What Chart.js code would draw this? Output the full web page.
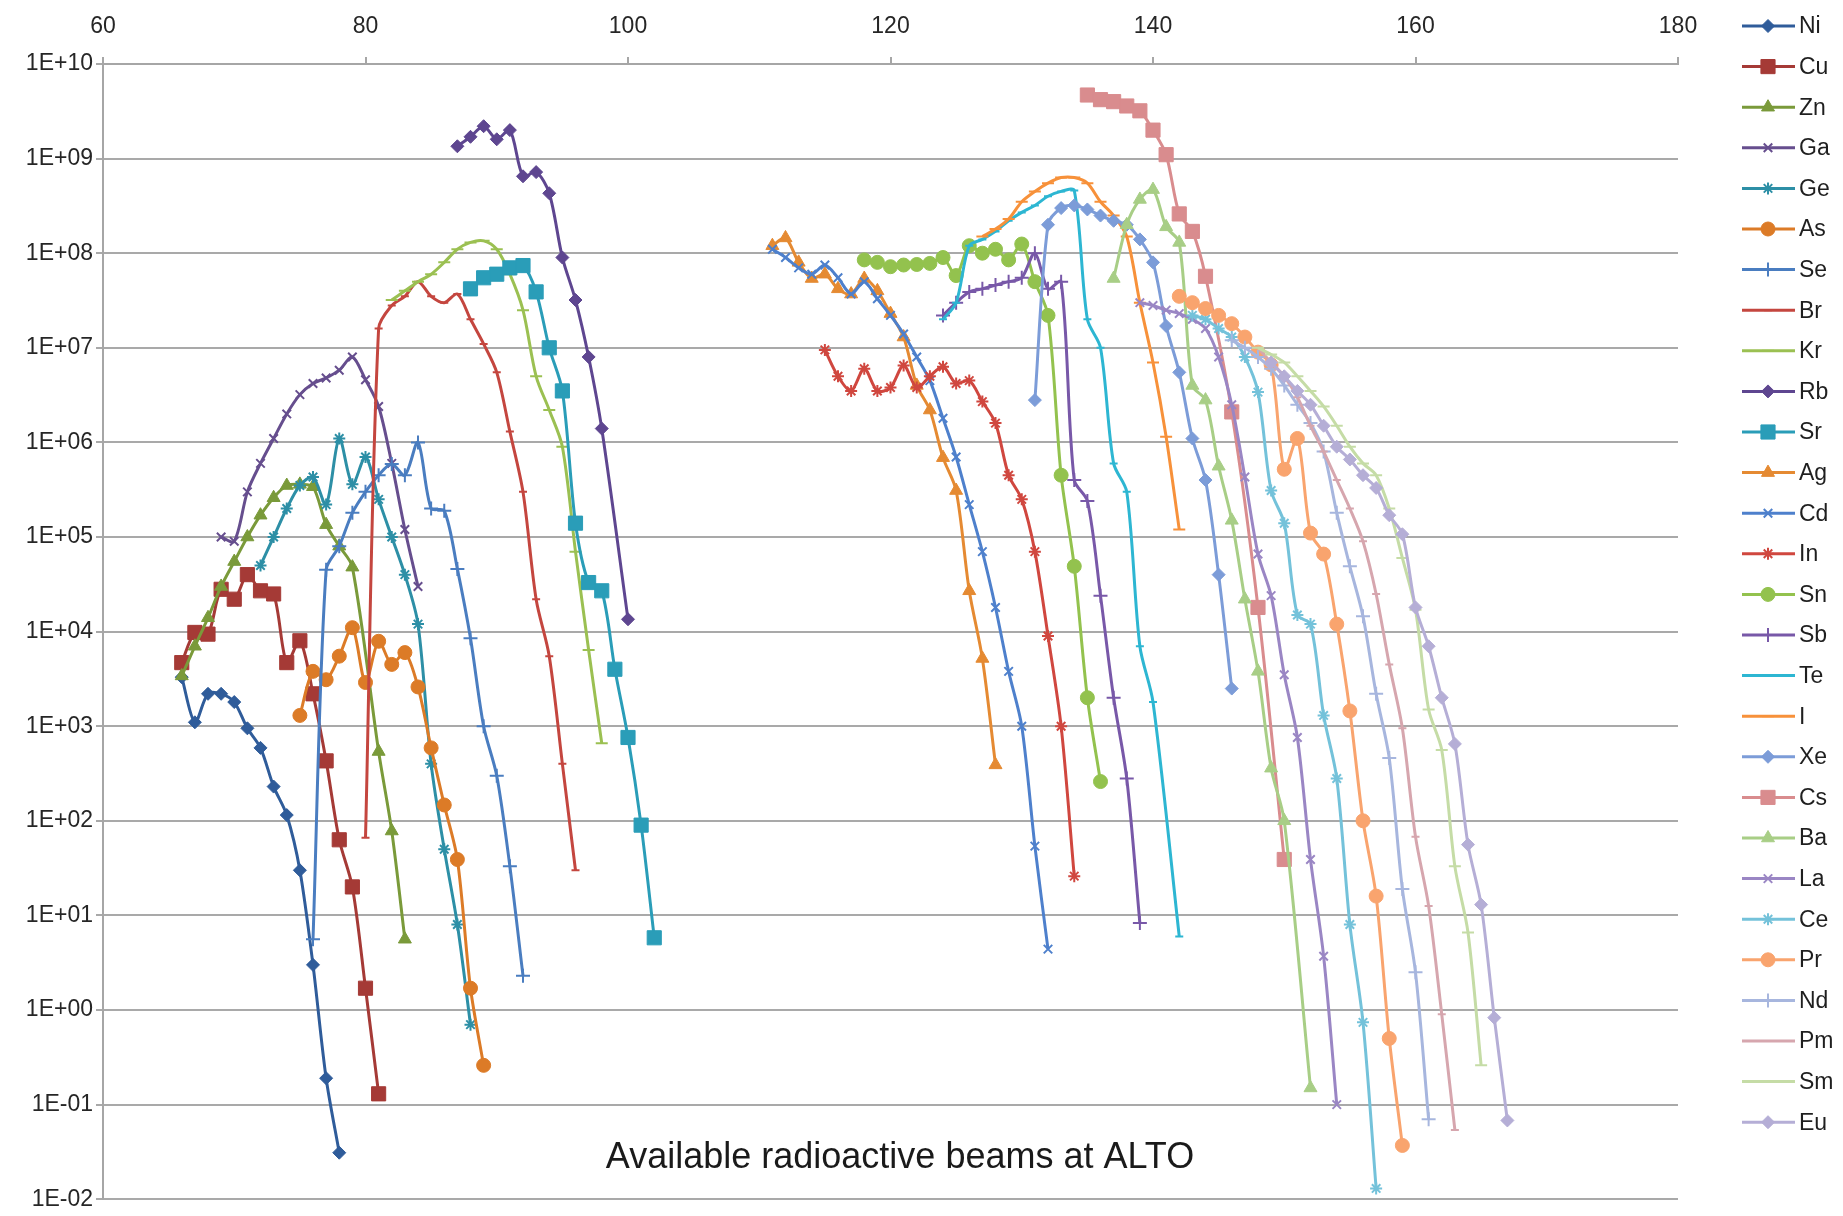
<!DOCTYPE html>
<html>
<head>
<meta charset="utf-8">
<title>Available radioactive beams at ALTO</title>
<script src="https://cdn.jsdelivr.net/npm/chart.js@4.4.1/dist/chart.umd.min.js"></script>
<style>
  html, body { margin: 0; padding: 0; background: #fff; }
  #beams { display: block; }
</style>
</head>
<body>
<canvas id="beams" width="1843" height="1216"></canvas>
<script>
// [mass number A, beam intensity] pairs
const Ni = [[66,3.3e3],[67,1.1e3],[68,2.2e3],[69,2.2e3],[70,1.8e3],[71,950],[72,590],[73,230],[74,115],[75,30],[76,3],[77,0.19],[78,0.031]];
const Cu = [[66,4.7e3],[67,9.8e3],[68,9.4e3],[69,2.8e4],[70,2.2e4],[71,4e4],[72,2.7e4],[73,2.5e4],[74,4.7e3],[75,8e3],[76,2.2e3],[77,430],[78,63],[79,20],[80,1.7],[81,0.13]];
const Zn = [[66,3.4e3],[67,7e3],[68,1.4e4],[69,3e4],[70,5.5e4],[71,1e5],[72,1.7e5],[73,2.6e5],[74,3.5e5],[75,3.6e5],[76,3.4e5],[77,1.35e5],[78,8e4],[79,4.8e4],[81,540],[82,78],[83,5.6]];
const Ga = [[69,1e5],[70,9e4],[71,3e5],[72,6e5],[73,1.1e6],[74,2e6],[75,3.2e6],[76,4.2e6],[77,4.8e6],[78,5.8e6],[79,8e6],[80,4.6e6],[81,2.4e6],[82,6e5],[83,1.2e5],[84,3e4]];
const Ge = [[72,5e4],[73,1e5],[74,2e5],[75,3.5e5],[76,4.3e5],[77,2.2e5],[78,1.1e6],[79,3.6e5],[80,7e5],[81,2.5e5],[82,1e5],[83,4e4],[84,1.2e4],[85,400],[86,50],[87,8],[88,0.7]];
const As = [[75,1.3e3],[76,3.8e3],[77,3.1e3],[78,5.5e3],[79,1.1e4],[80,2.9e3],[81,7.9e3],[82,4.5e3],[83,6e3],[84,2.6e3],[85,590],[86,147],[87,39],[88,1.7],[89,0.26]];
const Se = [[76,5.6],[77,4.5e4],[78,8e4],[79,1.8e5],[80,3e5],[81,4.5e5],[82,5.9e5],[83,4.5e5],[84,1e6],[85,2e5],[86,1.9e5],[87,4.6e4],[88,8.5e3],[89,1e3],[90,300],[91,33],[92,2.3]];
const Br = [[80,66],[81,1.6e7],[82,2.8e7],[83,3.5e7],[84,5e7],[85,3.5e7],[86,3e7],[87,3.7e7],[88,2e7],[89,1.1e7],[90,5.5e6],[91,1.3e6],[92,3e5],[93,2.2e4],[94,5.5e3],[95,400],[96,30]];
const Kr = [[82,3.2e7],[83,4e7],[84,5e7],[85,6e7],[86,8e7],[87,1.1e8],[88,1.3e8],[89,1.35e8],[90,1.1e8],[91,6e7],[92,2.5e7],[93,5e6],[94,2.2e6],[95,9e5],[96,7e4],[97,6.4e3],[98,660]];
const Rb = [[87,1.35e9],[88,1.7e9],[89,2.2e9],[90,1.6e9],[91,2e9],[92,6.5e8],[93,7.2e8],[94,4.3e8],[95,9e7],[96,3.2e7],[97,8e6],[98,1.4e6],[100,1.35e4]];
const Sr = [[88,4.2e7],[89,5.5e7],[90,6e7],[91,7e7],[92,7.4e7],[93,3.9e7],[94,1e7],[95,3.5e6],[96,1.4e5],[97,3.3e4],[98,2.7e4],[99,4e3],[100,760],[101,90],[102,5.8]];
const Ag = [[111,1.2e8],[112,1.45e8],[113,8e7],[114,5.4e7],[115,6e7],[116,4.2e7],[117,3.7e7],[118,5.4e7],[119,4e7],[120,2.3e7],[121,1.3e7],[122,4e6],[123,2.2e6],[124,6.9e5],[125,3.1e5],[126,2.7e4],[127,5.2e3],[128,390]];
const Cd = [[111,1.1e8],[112,9e7],[113,7e7],[114,6e7],[115,7.5e7],[116,5.5e7],[117,3.7e7],[118,5e7],[119,3.3e7],[120,2.2e7],[121,1.4e7],[122,8e6],[123,4.5e6],[124,1.8e6],[125,7e5],[126,2.2e5],[127,7e4],[128,1.8e4],[129,3.8e3],[130,1e3],[131,54],[132,4.4]];
const In = [[115,9.5e6],[116,5e6],[117,3.5e6],[118,6e6],[119,3.5e6],[120,3.8e6],[121,6.5e6],[122,3.8e6],[123,5e6],[124,6.3e6],[125,4.2e6],[126,4.5e6],[127,2.7e6],[128,1.6e6],[129,4.5e5],[130,2.5e5],[131,7e4],[132,9e3],[133,1e3],[134,26]];
const Sn = [[118,8.5e7],[119,8e7],[120,7.2e7],[121,7.5e7],[122,7.6e7],[123,7.8e7],[124,9e7],[125,5.8e7],[126,1.2e8],[127,1e8],[128,1.1e8],[129,8.5e7],[130,1.25e8],[131,5e7],[132,2.2e7],[133,4.5e5],[134,4.9e4],[135,2e3],[136,260]];
const Sb = [[124,2.2e7],[125,3e7],[126,3.9e7],[127,4.2e7],[128,4.6e7],[129,5e7],[130,5.5e7],[131,1e8],[132,4.2e7],[133,5e7],[134,4e5],[135,2.4e5],[136,2.4e4],[137,2e3],[138,280],[139,8.3]];
const Te = [[124,2e7],[125,3e7],[126,1.2e8],[127,1.4e8],[128,1.7e8],[129,2.2e8],[130,2.7e8],[131,3.2e8],[132,4e8],[133,4.5e8],[134,4.6e8],[135,2e7],[136,1e7],[137,6e5],[138,3e5],[139,7e3],[140,1.8e3],[142,6]];
const I = [[127,1.5e8],[128,1.8e8],[129,2.3e8],[130,3.5e8],[131,4.5e8],[132,5.5e8],[133,6.3e8],[134,6.3e8],[135,5.5e8],[136,3.5e8],[137,2.5e8],[138,1.5e8],[139,3e7],[140,7e6],[141,1.15e6],[142,1.2e5]];
const Xe = [[131,2.8e6],[132,2e8],[133,3e8],[134,3.2e8],[135,2.9e8],[136,2.5e8],[137,2.2e8],[138,2e8],[139,1.4e8],[140,8e7],[141,1.7e7],[142,5.5e6],[143,1.1e6],[144,4e5],[145,4e4],[146,2.5e3]];
const Cs = [[135,4.7e9],[136,4.2e9],[137,4e9],[138,3.6e9],[139,3.2e9],[140,2e9],[141,1.1e9],[142,2.6e8],[143,1.7e8],[144,5.7e7],[146,2.1e6],[148,1.8e4],[150,39]];
const Ba = [[137,5.4e7],[138,2e8],[139,3.7e8],[140,4.7e8],[141,1.9e8],[142,1.3e8],[143,4e6],[144,2.8e6],[145,5.6e5],[146,1.5e5],[147,2.2e4],[148,3.8e3],[149,360],[150,100],[152,0.15]];
const La = [[139,3e7],[140,2.8e7],[141,2.5e7],[142,2.3e7],[143,2e7],[144,1.6e7],[145,8e6],[146,2.5e6],[147,4.3e5],[148,6.6e4],[149,2.4e4],[150,3.5e3],[151,760],[152,39],[153,3.7],[154,0.1]];
const Ce = [[143,2.2e7],[144,2e7],[145,1.6e7],[146,1.3e7],[147,8e6],[148,3.4e6],[149,3.1e5],[150,1.4e5],[151,1.5e4],[152,1.2e4],[153,1.3e3],[154,280],[155,8],[156,0.74],[157,0.013]];
const Pr = [[142,3.5e7],[143,3e7],[144,2.6e7],[145,2.2e7],[146,1.8e7],[147,1.3e7],[148,9e6],[149,6.6e6],[150,5.2e5],[151,1.1e6],[152,1.1e5],[153,6.6e4],[154,1.2e4],[155,1.45e3],[156,100],[157,16],[158,0.5],[159,0.037]];
const Nd = [[146,1.2e7],[147,1e7],[148,8e6],[149,6e6],[150,4e6],[151,2.5e6],[152,1.6e6],[153,8e5],[154,1.8e5],[155,4.9e4],[156,1.45e4],[157,2.2e3],[158,460],[159,19],[160,2.5],[161,0.07]];
const Pm = [[148,1e7],[149,7e6],[150,5e6],[151,3e6],[152,1.5e6],[153,8e5],[154,4e5],[155,2e5],[156,9e4],[157,2.5e4],[158,4.5e3],[159,950],[160,68],[161,12.6],[162,0.9],[163,0.054]];
const Sm = [[148,1e7],[149,8.5e6],[150,7e6],[151,5e6],[152,3.5e6],[153,2.4e6],[154,1.5e6],[155,9e5],[156,6e5],[157,4.5e5],[158,2e5],[159,6e4],[160,1.7e4],[161,1.5e3],[162,560],[163,33],[164,6.6],[165,0.26]];
const Eu = [[149,7e6],[150,5e6],[151,3.5e6],[152,2.5e6],[153,1.5e6],[154,9e5],[155,6.6e5],[156,4.5e5],[157,3.3e5],[158,1.7e5],[159,1.07e5],[160,1.8e4],[161,7e3],[162,2e3],[163,650],[164,56],[165,13],[166,0.83],[167,0.068]];

const elements = ['Ni','Cu','Zn','Ga','Ge','As','Se','Br','Kr','Rb','Sr','Ag','Cd','In','Sn','Sb','Te','I','Xe','Cs','Ba','La','Ce','Pr','Nd','Pm','Sm','Eu'];
const seriesData = [Ni, Cu, Zn, Ga, Ge, As, Se, Br, Kr, Rb, Sr, Ag, Cd, In, Sn, Sb, Te, I, Xe, Cs, Ba, La, Ce, Pr, Nd, Pm, Sm, Eu];

const xTickValues = [60, 80, 100, 120, 140, 160, 180];
const yTickExponents = [-2, -1, 0, 1, 2, 3, 4, 5, 6, 7, 8, 9, 10];
const chartTitle = 'Available radioactive beams at ALTO';

const colors = [
  '#2F5C9A', '#A53A36', '#7A9A3A', '#664E8E', '#2D8FA6', '#DC7B27',
  '#4A7DC0', '#C4463F', '#9BC052', '#5E4690', '#2A9DB8', '#E58A32',
  '#4E80CC', '#D0473F', '#93C24E', '#7858A8', '#2DB6D2', '#F7913A',
  '#7C9CD8', '#D98C8E', '#A8CE86', '#9A86C4', '#74C2DA', '#F9A46E',
  '#A7B6DE', '#D6A6AE', '#C5DCA6', '#B5AED6'
];

// excel cycles through 9 marker shapes
const markerCycle = ['rectRot', 'rect', 'triangle', 'crossRot', 'star', 'circle', 'cross', 'line', 'line'];
const markerRadius = [6.5, 10, 7.5, 6, 6, 7, 7, 4, 6];

const FONT = '"Liberation Sans", Arial, Helvetica, sans-serif';
Chart.defaults.font.family = FONT;

function expLabel(v) {
  const e = Math.round(Math.log10(v));
  return '1E' + (e < 0 ? '-' : '+') + String(Math.abs(e)).padStart(2, '0');
}

const datasets = seriesData.map((pts, i) => {
  const style = markerCycle[i % markerCycle.length];
  const stroked = ['crossRot', 'star', 'cross', 'line'].includes(style);
  return {
    label: elements[i],
    data: pts.map(p => ({ x: p[0], y: p[1] })),
    showLine: true,
    borderColor: colors[i],
    backgroundColor: colors[i],
    borderWidth: 3,
    tension: 0.3,
    pointStyle: style,
    pointRadius: markerRadius[i % markerRadius.length],
    pointBorderWidth: stroked ? 2 : 1,
    pointBackgroundColor: colors[i],
    pointBorderColor: colors[i],
    order: seriesData.length - i
  };
});

// legend like excel: a short line with the marker on it, next to the name
const sideLegend = {
  id: 'sideLegend',
  afterDraw(chart) {
    const ctx = chart.ctx;
    ctx.save();
    chart.data.datasets.forEach((ds, i) => {
      const y = 26 + i * 40.6;
      ctx.strokeStyle = ds.borderColor;
      ctx.fillStyle = ds.borderColor;
      ctx.lineWidth = 3;
      ctx.beginPath();
      ctx.moveTo(1742, y);
      ctx.lineTo(1795, y);
      ctx.stroke();
      ctx.lineWidth = ds.pointBorderWidth;
      if (Chart.helpers && Chart.helpers.drawPoint) {
        Chart.helpers.drawPoint(ctx, { pointStyle: ds.pointStyle, radius: ds.pointRadius, rotation: 0, borderWidth: ds.pointBorderWidth }, 1768, y);
      }
      ctx.fillStyle = '#1f1f1f';
      ctx.font = '23px ' + FONT;
      ctx.textAlign = 'left';
      ctx.textBaseline = 'middle';
      ctx.fillText(ds.label, 1799, y + 1);
    });
    ctx.restore();
  }
};

const innerTitle = {
  id: 'innerTitle',
  afterDraw(chart) {
    const ctx = chart.ctx;
    ctx.save();
    ctx.fillStyle = '#1a1a1a';
    ctx.font = '36px ' + FONT;
    ctx.textAlign = 'center';
    ctx.textBaseline = 'alphabetic';
    ctx.fillText(chartTitle, 900, 1168);
    ctx.restore();
  }
};

new Chart(document.getElementById('beams'), {
  type: 'scatter',
  data: { datasets },
  options: {
    responsive: false,
    animation: false,
    devicePixelRatio: 1,
    events: [],
    layout: { padding: { left: 0, top: 0, right: 165, bottom: 12 } },
    plugins: {
      legend: { display: false },
      tooltip: { enabled: false },
      title: { display: false }
    },
    scales: {
      x: {
        type: 'linear',
        position: 'top',
        min: 60,
        max: 180,
        afterBuildTicks: s => { s.ticks = xTickValues.map(v => ({ value: v })); },
        afterFit: s => { s.height = 64; },
        grid: { drawOnChartArea: false, drawTicks: true, tickLength: 7, color: '#A6A6A6', lineWidth: 2 },
        border: { display: true, color: '#A6A6A6', width: 2 },
        ticks: { color: '#262626', font: { size: 23 }, padding: 17, maxRotation: 0 }
      },
      y: {
        type: 'logarithmic',
        min: 1e-2,
        max: 1e10,
        afterBuildTicks: s => { s.ticks = yTickExponents.map(e => ({ value: Math.pow(10, e) })); },
        afterFit: s => { s.width = 103; },
        grid: { color: '#A9A9A9', lineWidth: 2, tickLength: 7 },
        border: { display: true, color: '#A6A6A6', width: 2 },
        ticks: { color: '#262626', font: { size: 23 }, padding: 3, callback: v => expLabel(v) }
      }
    }
  },
  plugins: [sideLegend, innerTitle]
});
</script>
</body>
</html>
